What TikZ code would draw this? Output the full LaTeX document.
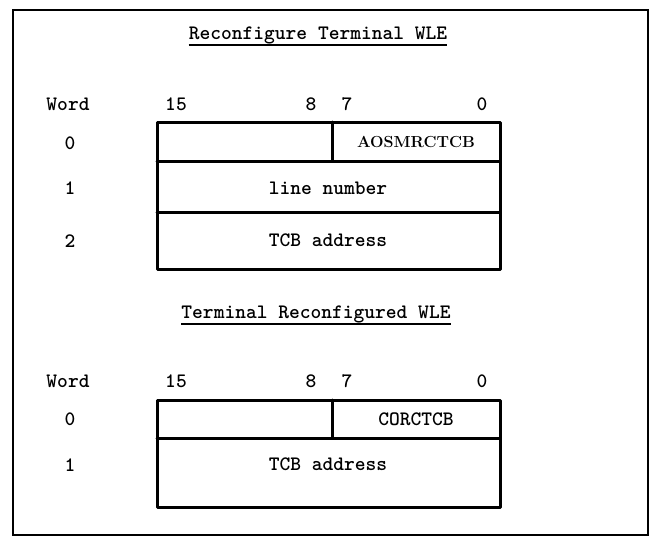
\documentclass[tikz,border=0pt]{standalone}
\usepackage{fontspec}
\begin{document}
\begin{tikzpicture}[x=1pt,y=-1pt,
  lbl/.style={font=\fontsize{20.5}{24}\selectfont\ttfamily\bfseries, inner sep=0pt, anchor=base},
  fld/.style={font=\fontsize{20.5}{24}\selectfont\ttfamily\bfseries, inner sep=0pt},
  rfld/.style={font=\fontsize{16}{20}\selectfont\rmfamily\bfseries, inner sep=0pt},
  frame/.style={line width=2.2pt},
  boxline/.style={line width=3pt, line cap=round, line join=round},
  uline/.style={line width=1.4pt}]
\useasboundingbox (0,0) rectangle (654,538);
\draw[frame] (13,10) rectangle (648,535);
% ---- section 1
\node[lbl] (t1) at (318,39) {Reconfigure Terminal WLE};
\draw[uline] (t1.base west) ++(0,6) coordinate (u1a) -- (t1.base east |- u1a);
\node[lbl] (w1) at (68,110) {Word};
\node[lbl] (a15) at (176,110) {15};
\node[lbl] (a8) at (311,110) {8};
\node[lbl] (a7) at (347,110) {7};
\node[lbl] (a0) at (482,110) {0};
\node[lbl] (r10) at (70,149) {0};
\node[lbl] (r11) at (70,194) {1};
\node[lbl] (r12) at (70,247) {2};
\draw[boxline] (157,122) rectangle (500,269);
\draw[boxline] (157,161) -- (500,161);
\draw[boxline] (157,212) -- (500,212);
\draw[boxline] (332,122) -- (332,161);
\node[rfld] (f10) at (416,142) {AOSMRCTCB};
\node[fld] (f11) at (328,188) {line number};
\node[fld] (f12) at (328,240) {TCB address};
% ---- section 2
\node[lbl] (t2) at (316,318) {Terminal Reconfigured WLE};
\draw[uline] (t2.base west) ++(0,6) coordinate (u2a) -- (t2.base east |- u2a);
\node[lbl] (w2) at (68,387) {Word};
\node[lbl] (b15) at (176,387) {15};
\node[lbl] (b8) at (311,387) {8};
\node[lbl] (b7) at (347,387) {7};
\node[lbl] (b0) at (482,387) {0};
\node[lbl] (r20) at (70,425) {0};
\node[lbl] (r21) at (70,471) {1};
\draw[boxline] (157,400) rectangle (500,507);
\draw[boxline] (157,438) -- (500,438);
\draw[boxline] (332,400) -- (332,438);
\node[fld] (f20) at (416,419) {CORCTCB};
\node[fld] (f21) at (328,464) {TCB address};
\end{tikzpicture}
\end{document}
